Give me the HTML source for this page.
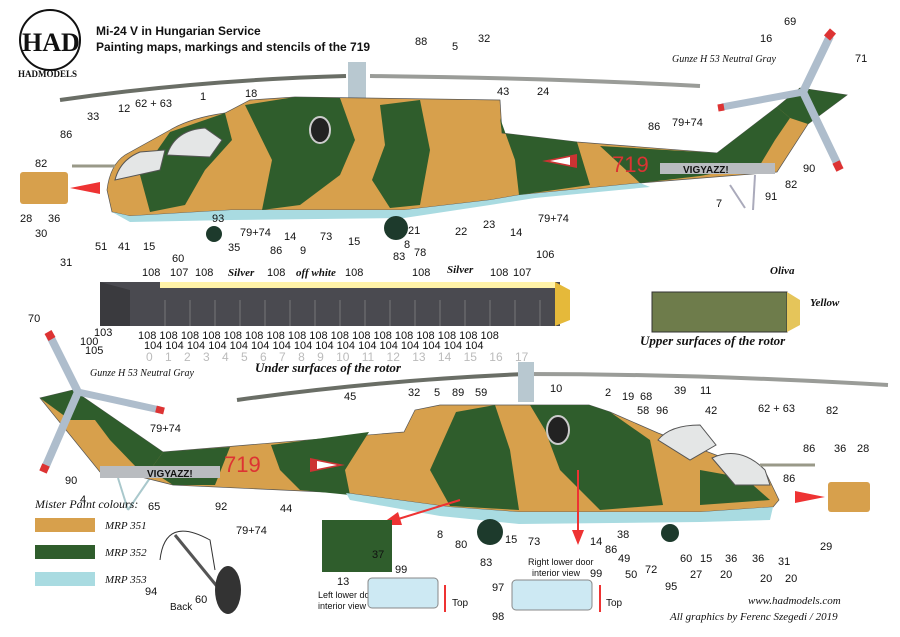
<!DOCTYPE html>
<html><head><meta charset="utf-8"><style>
html,body{margin:0;padding:0;background:#fff;}
svg{display:block}
text{font-family:"Liberation Sans",sans-serif;font-size:11px;fill:#111}
.s{font-family:"Liberation Serif",serif;font-style:italic}
</style></head><body>
<svg width="900" height="637" viewBox="0 0 900 637" xmlns="http://www.w3.org/2000/svg">
<rect width="900" height="637" fill="#fff"/>
<circle cx="50" cy="40" r="30" fill="#fff" stroke="#111" stroke-width="2"/>
<text x="22" y="51" style="font-size:26px;font-weight:bold;font-family:'Liberation Serif',serif">HAD</text>
<text x="18" y="77" style="font-size:9px;font-weight:bold;font-family:'Liberation Serif',serif">HADMODELS</text>
<text x="96" y="35" style="font-size:12px;font-weight:bold">Mi-24 V in Hungarian Service</text>
<text x="96" y="51" style="font-size:12px;font-weight:bold">Painting maps, markings and stencils of the 719</text>

<!-- TOP HELICOPTER -->
<g>
<path d="M60,100 Q200,80 346,76" stroke="#6a6e66" stroke-width="4" fill="none"/>
<path d="M370,76 Q550,78 700,86" stroke="#9a9c98" stroke-width="4" fill="none"/>
<rect x="348" y="62" width="18" height="40" fill="#b8c8d0"/>
<line x1="730" y1="185" x2="745" y2="208" stroke="#aab" stroke-width="2"/>
<line x1="755" y1="175" x2="753" y2="210" stroke="#aab" stroke-width="2"/>
<path d="M107,190 Q110,165 125,155 L170,130 Q190,118 225,113 L250,100 L295,97 L500,100 L502,133 L577,142 L717,153 L777,107 L800,88 L847,95 L808,124 L777,172 L640,183 L519,195 L490,200 L404,210 L231,210 L130,216 L112,212 Z" fill="#d7a04c" stroke="#555" stroke-width="0.7"/>
<path d="M245,105 L295,97 L340,98 L355,140 L340,175 L300,205 L262,210 L272,160 Z" fill="#2f5d2c"/>
<path d="M170,132 L225,113 L232,140 L205,170 L185,205 L150,212 L140,175 Z" fill="#2f5d2c"/>
<path d="M380,105 L420,100 L430,150 L420,205 L390,208 L372,180 L385,145 Z" fill="#2f5d2c"/>
<path d="M500,118 L502,133 L577,142 L590,185 L519,195 L515,160 Z" fill="#2f5d2c"/>
<path d="M600,146 L717,153 L777,107 L790,118 L775,140 L760,165 L700,176 L640,183 Z" fill="#2f5d2c"/>
<path d="M777,107 L800,88 L847,95 L808,124 L790,118 Z" fill="#2f5d2c"/>
<rect x="660" y="163" width="115" height="11" fill="#b9bcc0"/>
<path d="M112,212 L130,216 L231,210 L404,210 L490,200 L519,195 L640,183 L650,187 L535,198 L490,205 L404,218 L231,220 L130,222 Z" fill="#a9dbe1"/>
<path d="M115,180 Q120,160 140,152 L165,150 L160,170 Z" fill="#e4e6e6" stroke="#555"/>
<path d="M167,155 Q175,130 205,128 L222,140 L210,157 Z" fill="#e4e6e6" stroke="#555"/>
<ellipse cx="320" cy="130" rx="10" ry="13" fill="#222" stroke="#ccc" stroke-width="2"/>
<circle cx="214" cy="234" r="8" fill="#1d3a2c"/>
<circle cx="396" cy="228" r="12" fill="#1d3a2c"/>
<line x1="72" y1="166" x2="115" y2="166" stroke="#998" stroke-width="3"/>
<!-- tail rotor -->
<line x1="803" y1="92" x2="830" y2="36" stroke="#aebdcc" stroke-width="8"/>
<line x1="803" y1="92" x2="722" y2="107" stroke="#aebdcc" stroke-width="7"/>
<line x1="803" y1="92" x2="838" y2="165" stroke="#aebdcc" stroke-width="8"/>
<line x1="827" y1="38" x2="833" y2="31" stroke="#d33" stroke-width="8"/>
<line x1="724" y1="107" x2="718" y2="108" stroke="#d33" stroke-width="7"/>
<line x1="836" y1="162" x2="840" y2="170" stroke="#d33" stroke-width="8"/>
<text x="612" y="172" style="font-size:22px;fill:#d33">719</text>
<polygon points="542,161 577,154 577,168" fill="#c33"/>
<polygon points="550,161 570,157 570,165" fill="#fff"/>
<text x="683" y="173" style="font-size:10px;font-weight:bold">VIGYAZZ!</text>
<rect x="20" y="172" width="48" height="32" rx="3" fill="#d7a04c"/>
<polygon points="70,188 100,182 100,194" fill="#e33"/>
</g>
<g>
<text x="60" y="138">86</text><text x="87" y="120">33</text><text x="118" y="112">12</text><text x="135" y="107">62 + 63</text>
<text x="200" y="100">1</text><text x="245" y="97">18</text><text x="415" y="45">88</text><text x="452" y="50">5</text><text x="478" y="42">32</text>
<text x="497" y="95">43</text><text x="537" y="95">24</text><text x="35" y="167">82</text><text x="20" y="222">28</text><text x="48" y="222">36</text>
<text x="35" y="237">30</text><text x="60" y="266">31</text><text x="95" y="250">51</text><text x="118" y="250">41</text><text x="143" y="250">15</text>
<text x="172" y="262">60</text><text x="212" y="222">93</text><text x="228" y="251">35</text><text x="240" y="236">79+74</text><text x="284" y="240">14</text>
<text x="270" y="254">86</text><text x="300" y="254">9</text><text x="320" y="240">73</text><text x="348" y="245">15</text><text x="408" y="234">21</text><text x="404" y="248">8</text>
<text x="393" y="260">83</text><text x="414" y="256">78</text><text x="455" y="235">22</text><text x="483" y="228">23</text><text x="510" y="236">14</text>
<text x="538" y="222">79+74</text><text x="716" y="207">7</text><text x="765" y="200">91</text><text x="785" y="188">82</text><text x="803" y="172">90</text>
<text x="648" y="130">86</text><text x="672" y="126">79+74</text><text x="784" y="25">69</text><text x="760" y="42">16</text><text x="855" y="62">71</text>
<text class="s" x="672" y="62" style="font-size:10px">Gunze H 53 Neutral Gray</text>
</g>

<!-- ROTOR STRIP -->
<rect x="100" y="282" width="460" height="44" fill="#4a4a50"/>
<rect x="160" y="282" width="395" height="6" fill="#fff3a8"/>
<polygon points="100,282 130,290 130,326 100,326" fill="#3a3a3e"/>
<path d="M555,282 L570,290 L570,320 L555,326Z" fill="#e5b93a"/>
<g stroke="#777" stroke-width="1">
<line x1="165" y1="300" x2="165" y2="326"/><line x1="190" y1="300" x2="190" y2="326"/><line x1="215" y1="300" x2="215" y2="326"/><line x1="240" y1="300" x2="240" y2="326"/><line x1="265" y1="300" x2="265" y2="326"/><line x1="290" y1="300" x2="290" y2="326"/><line x1="315" y1="300" x2="315" y2="326"/><line x1="340" y1="300" x2="340" y2="326"/><line x1="365" y1="300" x2="365" y2="326"/><line x1="390" y1="300" x2="390" y2="326"/><line x1="415" y1="300" x2="415" y2="326"/><line x1="440" y1="300" x2="440" y2="326"/><line x1="465" y1="300" x2="465" y2="326"/><line x1="490" y1="300" x2="490" y2="326"/><line x1="515" y1="300" x2="515" y2="326"/><line x1="540" y1="300" x2="540" y2="326"/>
</g>
<g style="font-size:9px">
<text x="142" y="276">108</text><text x="170" y="276">107</text><text x="195" y="276">108</text><text class="s" x="228" y="276" style="font-weight:bold">Silver</text>
<text x="267" y="276">108</text><text class="s" x="296" y="276" style="font-weight:bold">off white</text><text x="345" y="276">108</text><text x="412" y="276">108</text>
<text class="s" x="447" y="273" style="font-weight:bold">Silver</text><text x="490" y="276">108</text><text x="513" y="276">107</text><text x="536" y="258">106</text>
<text x="80" y="345">100</text><text x="94" y="336">103</text><text x="85" y="354">105</text>
<text x="138" y="339">108 108 108 108 108 108 108 108 108 108 108 108 108 108 108 108 108</text>
<text x="144" y="349">104  104  104  104  104  104  104  104  104  104  104  104  104  104  104  104</text>
</g>
<text x="146" y="361" style="font-size:12px;fill:#bbb;word-spacing:9px">0 1 2 3 4 5 6 7 8 9 10 11 12 13 14 15 16 17</text>
<text class="s" x="255" y="372" style="font-size:13px;font-weight:bold">Under surfaces of the rotor</text>

<rect x="652" y="292" width="135" height="40" fill="#6e7c4b" stroke="#333"/>
<path d="M787,292 L800,300 L800,325 L787,332Z" fill="#e5c55a"/>
<text class="s" x="770" y="274" style="font-weight:bold">Oliva</text>
<text class="s" x="810" y="306" style="font-weight:bold">Yellow</text>
<text class="s" x="640" y="345" style="font-size:13px;font-weight:bold">Upper surfaces of the rotor</text>

<!-- BOTTOM HELICOPTER -->
<g>
<path d="M237,400 Q380,380 525,374" stroke="#6a6e66" stroke-width="4" fill="none"/>
<path d="M525,374 Q700,374 888,385" stroke="#9a9c98" stroke-width="4" fill="none"/>
<rect x="518" y="362" width="16" height="40" fill="#b8c8d0"/>
<line x1="118" y1="478" x2="128" y2="510" stroke="#a9c8cc" stroke-width="2"/>
<line x1="150" y1="478" x2="128" y2="510" stroke="#a9c8cc" stroke-width="2"/>
<path d="M40,398 L73,390 L163,452 L404,432 L415,410 L440,405 L589,405 L610,412 L658,433 L716,455 L767,475 L779,500 L773,507 L700,512 L519,512 L450,507 L346,493 L173,485 L137,476 L100,472 Z" fill="#d7a04c" stroke="#555" stroke-width="0.7"/>
<path d="M40,398 L73,390 L163,452 L150,470 L137,468 L110,440 L95,420 L70,420 Z" fill="#2f5d2c"/>
<path d="M163,452 L230,447 L215,485 L173,485 L150,470 Z" fill="#2f5d2c"/>
<path d="M271,445 L369,432 L345,470 L350,495 L300,490 L280,470 Z" fill="#2f5d2c"/>
<path d="M456,412 L495,405 L510,450 L519,510 L450,506 L430,470 Z" fill="#2f5d2c"/>
<path d="M530,405 L589,405 L610,412 L650,440 L663,505 L600,510 L560,470 L545,430 Z" fill="#2f5d2c"/>
<path d="M700,470 L745,478 L770,500 L700,505 Z" fill="#2f5d2c"/>
<rect x="100" y="466" width="120" height="12" fill="#b9bcc0"/>
<path d="M346,493 L450,507 L519,512 L700,512 L773,507 L770,520 L700,522 L519,524 L440,516 L350,500 Z" fill="#a9dbe1"/>
<path d="M658,440 Q670,425 700,425 L716,445 L690,460 Z" fill="#e4e6e6" stroke="#555"/>
<path d="M712,458 Q740,445 765,470 L770,485 L735,485 Z" fill="#e4e6e6" stroke="#555"/>
<ellipse cx="558" cy="430" rx="11" ry="14" fill="#222" stroke="#ccc" stroke-width="2"/>
<circle cx="490" cy="532" r="13" fill="#1d3a2c"/>
<circle cx="670" cy="533" r="9" fill="#1d3a2c"/>
<line x1="760" y1="465" x2="815" y2="465" stroke="#998" stroke-width="3"/>
<!-- tail rotor -->
<line x1="78" y1="392" x2="50" y2="336" stroke="#aebdcc" stroke-width="8"/>
<line x1="78" y1="392" x2="160" y2="410" stroke="#aebdcc" stroke-width="7"/>
<line x1="78" y1="392" x2="45" y2="468" stroke="#aebdcc" stroke-width="8"/>
<line x1="52" y1="339" x2="48" y2="332" stroke="#d33" stroke-width="8"/>
<line x1="156" y1="409" x2="164" y2="411" stroke="#d33" stroke-width="7"/>
<line x1="46" y1="465" x2="43" y2="472" stroke="#d33" stroke-width="8"/>
<text x="224" y="472" style="font-size:22px;fill:#d33">719</text>
<polygon points="345,465 310,458 310,472" fill="#c33"/>
<polygon points="337,465 317,461 317,469" fill="#fff"/>
<text x="147" y="477" style="font-size:10px;font-weight:bold">VIGYAZZ!</text>
<rect x="828" y="482" width="42" height="30" rx="3" fill="#d7a04c"/>
<polygon points="825,497 795,491 795,503" fill="#e33"/>
<line x1="460" y1="500" x2="395" y2="520" stroke="#e33" stroke-width="2"/>
<polygon points="380,525 398,512 402,525" fill="#e33"/>
<line x1="578" y1="470" x2="578" y2="530" stroke="#e33" stroke-width="2"/>
<polygon points="572,530 584,530 578,545" fill="#e33"/>
</g>
<g>
<text x="28" y="322">70</text><text class="s" x="90" y="376" style="font-size:10px">Gunze H 53 Neutral Gray</text>
<text x="150" y="432">79+74</text><text x="65" y="484">90</text><text x="80" y="503">4</text><text x="148" y="510">65</text><text x="280" y="512">44</text>
<text x="236" y="534">79+74</text><text x="344" y="400">45</text><text x="408" y="396">32</text><text x="434" y="396">5</text><text x="452" y="396">89</text><text x="475" y="396">59</text>
<text x="550" y="392">10</text><text x="605" y="396">2</text><text x="622" y="400">19</text><text x="640" y="400">68</text><text x="637" y="414">58</text><text x="656" y="414">96</text>
<text x="674" y="394">39</text><text x="700" y="394">11</text><text x="705" y="414">42</text><text x="758" y="412">62 + 63</text><text x="826" y="414">82</text>
<text x="803" y="452">86</text><text x="783" y="482">86</text><text x="834" y="452">36</text><text x="857" y="452">28</text><text x="820" y="550">29</text>
<text x="437" y="538">8</text><text x="455" y="548">80</text><text x="480" y="566">83</text><text x="505" y="543">15</text><text x="528" y="545">73</text><text x="590" y="545">14</text>
<text x="605" y="553">86</text><text x="617" y="538">38</text><text x="618" y="562">49</text><text x="625" y="578">50</text><text x="645" y="573">72</text><text x="665" y="590">95</text>
<text x="680" y="562">60</text><text x="700" y="562">15</text><text x="690" y="578">27</text><text x="720" y="578">20</text><text x="725" y="562">36</text><text x="752" y="562">36</text>
<text x="778" y="565">31</text><text x="785" y="582">20</text><text x="760" y="582">20</text>
</g>

<text class="s" x="35" y="508" style="font-size:12px">Mister Paint colours:</text>
<rect x="35" y="518" width="60" height="14" fill="#d7a04c"/><text class="s" x="105" y="529">MRP 351</text>
<rect x="35" y="545" width="60" height="14" fill="#2f5d2c"/><text class="s" x="105" y="556">MRP 352</text>
<rect x="35" y="572" width="60" height="14" fill="#a9dbe1"/><text class="s" x="105" y="583">MRP 353</text>
<path d="M160,560 Q165,515 210,540 L215,570" fill="none" stroke="#333"/>
<line x1="175" y1="535" x2="220" y2="590" stroke="#555" stroke-width="3"/>
<ellipse cx="228" cy="590" rx="13" ry="24" fill="#333"/>
<text x="215" y="510">92</text><text x="145" y="595">94</text><text x="170" y="610" style="font-size:10px">Back</text><text x="195" y="603">60</text>
<rect x="322" y="520" width="70" height="52" fill="#2f5d2c"/><text x="372" y="558">37</text>
<text x="337" y="585">13</text><text x="318" y="598" style="font-size:9px">Left lower door</text><text x="318" y="609" style="font-size:9px">interior view</text>
<rect x="368" y="578" width="70" height="30" rx="4" fill="#cde9f3" stroke="#888"/><text x="395" y="573">99</text>
<text x="452" y="606" style="font-size:10px">Top</text><line x1="445" y1="612" x2="445" y2="585" stroke="#e33" stroke-width="2"/>
<text x="528" y="565" style="font-size:9px">Right lower door</text><text x="532" y="576" style="font-size:9px">interior view</text>
<rect x="512" y="580" width="80" height="30" rx="4" fill="#cde9f3" stroke="#888"/>
<text x="492" y="591">97</text><text x="492" y="620">98</text><text x="590" y="577">99</text>
<text x="606" y="606" style="font-size:10px">Top</text><line x1="600" y1="612" x2="600" y2="585" stroke="#e33" stroke-width="2"/>
<text class="s" x="748" y="604" style="font-size:11px">www.hadmodels.com</text>
<text class="s" x="670" y="620" style="font-size:11px">All graphics by Ferenc Szegedi  / 2019</text>
</svg>
</body></html>
